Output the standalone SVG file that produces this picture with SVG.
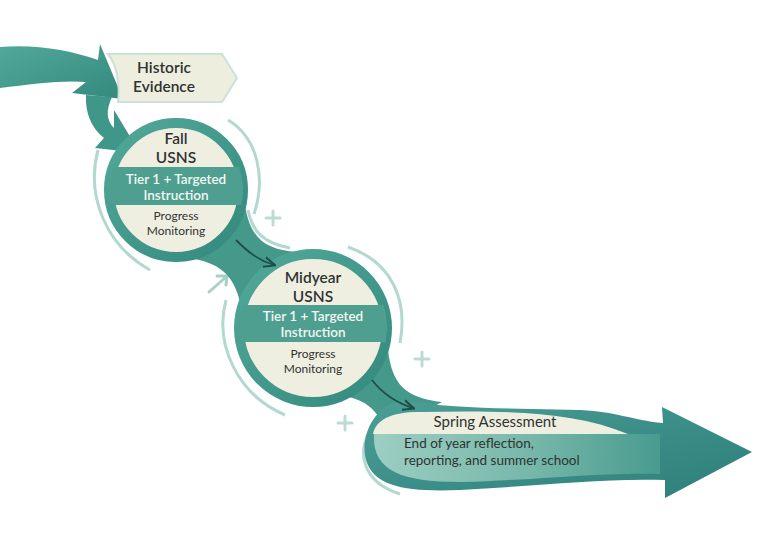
<svg xmlns="http://www.w3.org/2000/svg" width="764" height="533" viewBox="0 0 764 533">
<defs>
<linearGradient id="teal" x1="0" y1="0" x2="1" y2="1">
<stop offset="0" stop-color="#52a99a"/><stop offset="1" stop-color="#33897c"/>
</linearGradient>
<linearGradient id="head" x1="0" y1="0" x2="1" y2="1">
<stop offset="0" stop-color="#4b9f96"/><stop offset="1" stop-color="#2d7f7a"/>
</linearGradient>
<linearGradient id="body" x1="0" y1="0" x2="1" y2="0">
<stop offset="0" stop-color="#a7d4c8"/><stop offset="0.55" stop-color="#7dbcad"/><stop offset="1" stop-color="#4a9d90"/>
</linearGradient>
<clipPath id="cf"><circle cx="176" cy="190" r="67"/></clipPath>
<clipPath id="cm"><circle cx="313" cy="328" r="74"/></clipPath>
<marker id="ah" viewBox="0 0 10 10" refX="8" refY="5" markerWidth="7" markerHeight="7" orient="auto">
<path d="M0,1 L9,5 L0,9" fill="none" stroke="#1f4d47" stroke-width="1.6"/>
</marker>
<style>
.t{font-family:Lato,"Open Sans","Liberation Sans",sans-serif;text-anchor:middle;fill:#2f3332}
.h{font-size:15.5px;font-weight:600}
.w{font-size:13.5px;font-weight:600;fill:#f4f7f1}
.s{font-size:12px}
.ring{fill:#efefe1;stroke:url(#teal);stroke-width:10}
.band{fill:#4f9f91}
.glow{fill:none;stroke:#b3d8cf;stroke-width:3}
.plus{stroke:#bcdbd3;stroke-width:3;stroke-linecap:round}
.arr{fill:none;stroke:#1f4d47;stroke-width:1.8;marker-end:url(#ah)}
.rib{fill:#44998b}
</style>
</defs>
<rect width="764" height="533" fill="#ffffff"/>

<g id="decor">
<path class="glow" d="M98,150 C86,195 105,245 150,270"/>
<path class="glow" d="M228,120 C258,138 266,178 254,214"/>
<path class="glow" d="M248,210 C252,230 262,243 290,248"/>
<path class="glow" d="M226,300 C214,345 238,395 285,415"/>
<path class="glow" d="M348,247 C392,262 408,300 400,343"/>
<path class="glow" d="M372,428 C356,452 362,482 400,494"/>
<path class="plus" d="M273,211 v14 M266,218 h14"/>
<path class="plus" d="M422,352 v14 M415,359 h14"/>
<path class="plus" d="M345,416 v14 M338,423 h14"/>
<path d="M209,292 L226,277" stroke="#a8d0c6" stroke-width="3" fill="none" stroke-linecap="round"/>
<path d="M217,276 L227,276 L226,285" stroke="#a8d0c6" stroke-width="3" fill="none" stroke-linecap="round" stroke-linejoin="round"/>
</g>

<g id="ribbon">
<path d="M0,47 C35,44 70,50 98,60 L100,44 L123,99 L72,93 L86,82 C62,80 32,84 0,88 Z" fill="url(#teal)"/>
<path d="M86,95 L112,97 C106,110 106,120 114,128 L114,110 L140,153 L95,148 L104,138 C91,128 85,112 86,95 Z" fill="#3f978a"/>
<path d="M245,205 C250,238 265,250 297,252 L240,302 C234,276 220,262 188,258 Z" class="rib"/>
<path d="M388,350 C392,385 406,398 442,402 L386,432 C378,410 366,400 344,396 Z" class="rib"/>
</g>

<g id="historic">
<path d="M108,54 L222,54 L237,78 L222,102 L118,102 C120,88 118,66 108,54 Z" fill="#eeeedf" stroke="#cfe0d8" stroke-width="2"/>
<text class="t h" x="164" y="73">Historic</text>
<text class="t h" x="164" y="92">Evidence</text>
</g>

<g id="fall">
<circle class="ring" cx="176" cy="190" r="67"/>
<rect x="104" y="167" width="144" height="38" class="band" clip-path="url(#cf)"/>
<text class="t h" x="176" y="144">Fall</text>
<text class="t h" x="176" y="163">USNS</text>
<text class="t w" x="176" y="184">Tier 1 + Targeted</text>
<text class="t w" x="176" y="200">Instruction</text>
<text class="t s" x="176" y="220">Progress</text>
<text class="t s" x="176" y="235">Monitoring</text>
</g>

<g id="midyear">
<circle class="ring" cx="313" cy="328" r="74"/>
<rect x="236" y="305" width="154" height="37" class="band" clip-path="url(#cm)"/>
<text class="t h" x="313" y="283">Midyear</text>
<text class="t h" x="313" y="302">USNS</text>
<text class="t w" x="313" y="321">Tier 1 + Targeted</text>
<text class="t w" x="313" y="337">Instruction</text>
<text class="t s" x="313" y="358">Progress</text>
<text class="t s" x="313" y="373">Monitoring</text>
</g>

<g id="spring">
<path d="M400,400 C372,408 360,438 366,460 C374,488 410,492 460,490 C540,486 600,478 665,480 L665,498 L752,452 L662,407 L663,423 C630,420 620,412 580,410 C520,408 460,410 400,400 Z" fill="url(#head)"/>
<path d="M374,434 C372,470 400,482 460,482 C540,480 600,472 660,474 L660,434 Z" fill="url(#body)" opacity=".9"/>
<path d="M373,434 C376,420 390,412 420,412 C500,411 570,410 628,434 Z" fill="#efefe1"/>
<text class="t" x="495" y="427" style="font-size:15px">Spring Assessment</text>
<text class="t" x="404" y="448" style="text-anchor:start;font-size:13.5px">End of year reflection,</text>
<text class="t" x="404" y="465" style="text-anchor:start;font-size:13.5px">reporting, and summer school</text>
</g>

<g id="connectors">
<path class="arr" d="M236,240 C248,252 258,260 274,265"/>
<path class="arr" d="M372,380 C382,393 394,402 413,408"/>
</g>
</svg>
